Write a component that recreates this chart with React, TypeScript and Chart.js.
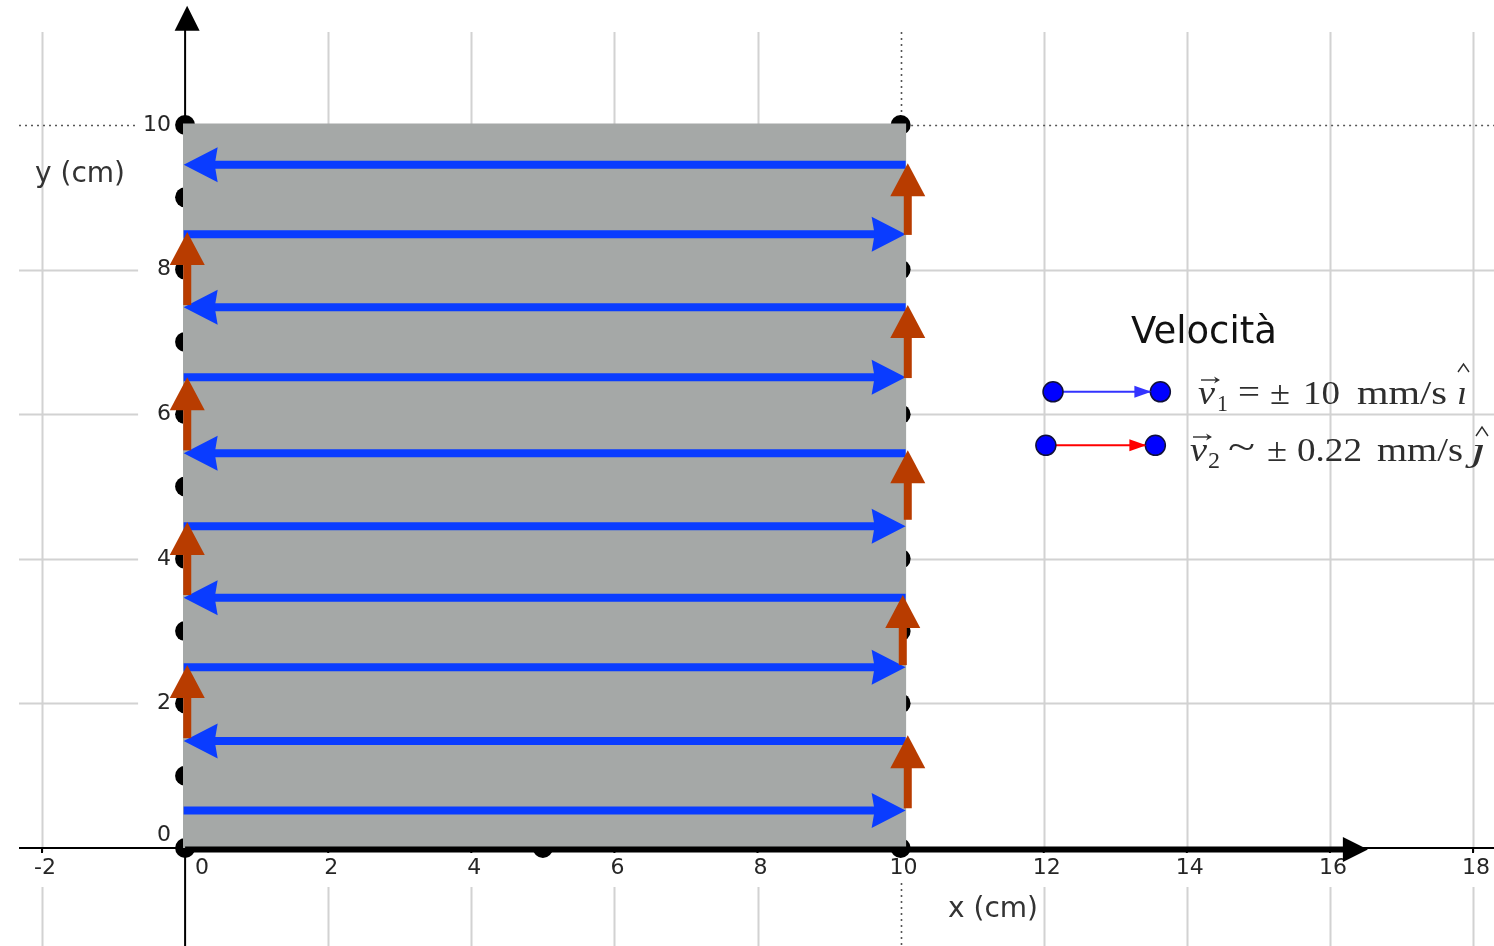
import React, { useEffect, useRef } from "react";
import { Chart, registerables } from "chart.js";

Chart.register(...registerables);

// ---------- axis ranges (cm) ----------
const xRange = [-2.587, 18.293];
const yRange = [-1.355, 11.729];

// ---------- ticks ----------
const xTickValues = [-2, 0, 2, 4, 6, 8, 10, 12, 14, 16, 18];
const xTickLabels = ["-2", "0", "2", "4", "6", "8", "10", "12", "14", "16", "18"];
const yTickValues = [0, 2, 4, 6, 8, 10];
const yTickLabels = ["0", "2", "4", "6", "8", "10"];
const dottedGridX = 10;
const dottedGridY = 10;
const xAxisTitle = "x (cm)";
const yAxisTitle = "y (cm)";

// ---------- grey plate ----------
const plateX = [-0.03, 10.08];
const plateTop = 10.02;

// ---------- black points ----------
const dotX = [0, 0, 0, 0, 0, 0, 0, 0, 0, 0, 0, 10, 10, 10, 10, 10, 10, 10, 10, 10, 10, 10, 5];
const dotY = [0, 1, 2, 3, 4, 5, 6, 7, 8, 9, 10, 0, 1, 2, 3, 4, 5, 6, 7, 8, 9, 10, 0];

// ---------- blue path (v1) ----------
const blueY = [0.52, 1.48, 2.5, 3.46, 4.45, 5.46, 6.51, 7.48, 8.49, 9.45];
const blueFromX = [-0.02, 10.07, -0.02, 10.07, -0.02, 10.07, -0.02, 10.07, -0.02, 10.07];
const blueToX = [10.07, -0.02, 10.07, -0.02, 10.07, -0.02, 10.07, -0.02, 10.07, -0.02];

// ---------- red steps (v2) ----------
const redX = [10.1, 0.03, 10.03, 0.03, 10.1, 0.03, 10.1, 0.03, 10.1];
const redFromY = [0.55, 1.52, 2.53, 3.5, 4.54, 5.5, 6.5, 7.51, 8.48];
const redToY = [1.56, 2.53, 3.5, 4.51, 5.5, 6.51, 7.51, 8.52, 9.47];

// ---------- axis vectors ----------
const xAxisVector = [0, 16.53];
const yAxisTip = 11.65;

// ---------- legend ----------
const legendTitle = "Velocità";
const legendFromX = [12.13, 12.03];
const legendToX = [13.63, 13.56];
const legendY = [6.31, 5.57];
const legendLineColors = ["#3333ff", "#ff0000"];

const BLUE = "#0a3cff";
const RED = "#b83c00";
const PLATE = "#a5a8a7";
const GRID = "#d2d2d2";
const TEXT = "#2e2e2e";

type Arrow = { color: string; shaft: number; head: number; half: number; notch?: number; inset?: number };

function drawArrow(ctx: CanvasRenderingContext2D, x1: number, y1: number, x2: number, y2: number, a: Arrow) {
  const dx = x2 - x1;
  const dy = y2 - y1;
  const L = Math.hypot(dx, dy) || 1;
  const ux = dx / L;
  const uy = dy / L;
  const inset = a.inset || 0;
  const tx = x2 - ux * inset;
  const ty = y2 - uy * inset;
  const bx = tx - ux * a.head;
  const by = ty - uy * a.head;
  const notch = a.notch || 0;
  ctx.save();
  if (a.shaft > 0) {
    ctx.strokeStyle = a.color;
    ctx.lineWidth = a.shaft;
    ctx.lineCap = "butt";
    ctx.beginPath();
    ctx.moveTo(x1, y1);
    ctx.lineTo(bx + ux * (notch + 1), by + uy * (notch + 1));
    ctx.stroke();
  }
  ctx.fillStyle = a.color;
  ctx.beginPath();
  ctx.moveTo(tx, ty);
  ctx.lineTo(bx - uy * a.half, by + ux * a.half);
  ctx.lineTo(bx + ux * notch, by + uy * notch);
  ctx.lineTo(bx + uy * a.half, by - ux * a.half);
  ctx.closePath();
  ctx.fill();
  ctx.restore();
}

function fitText(
  ctx: CanvasRenderingContext2D,
  text: string,
  x: number,
  y: number,
  w: number,
  font: string,
  color: string,
  clipTop?: number
) {
  ctx.save();
  if (clipTop !== undefined) {
    ctx.beginPath();
    ctx.rect(x - 10, clipTop, w + 30, 200);
    ctx.clip();
  }
  ctx.font = font;
  ctx.fillStyle = color;
  ctx.textAlign = "left";
  ctx.textBaseline = "alphabetic";
  const m = ctx.measureText(text).width || 1;
  ctx.translate(x, y);
  ctx.scale(w / m, 1);
  ctx.fillText(text, 0, 0);
  ctx.restore();
}

function vecMark(ctx: CanvasRenderingContext2D, x1: number, x2: number, y: number) {
  ctx.save();
  ctx.strokeStyle = TEXT;
  ctx.fillStyle = TEXT;
  ctx.lineWidth = 1.4;
  ctx.beginPath();
  ctx.moveTo(x1, y);
  ctx.lineTo(x2 - 3, y);
  ctx.stroke();
  ctx.beginPath();
  ctx.moveTo(x2, y);
  ctx.lineTo(x2 - 6, y - 3.5);
  ctx.lineTo(x2 - 4, y);
  ctx.lineTo(x2 - 6, y + 3.5);
  ctx.closePath();
  ctx.fill();
  ctx.restore();
}

function hat(ctx: CanvasRenderingContext2D, x1: number, x2: number, yTop: number, yBot: number) {
  ctx.save();
  ctx.strokeStyle = TEXT;
  ctx.lineWidth = 1.4;
  ctx.beginPath();
  ctx.moveTo(x1, yBot);
  ctx.lineTo((x1 + x2) / 2, yTop);
  ctx.lineTo(x2, yBot);
  ctx.stroke();
  ctx.restore();
}

const geoPlugin = {
  id: "geo",
  beforeDatasetsDraw(chart: any) {
    const ctx: CanvasRenderingContext2D = chart.ctx;
    const xs = chart.scales.x;
    const ys = chart.scales.y;
    const area = chart.chartArea;
    const px = (v: number) => xs.getPixelForValue(v);
    const py = (v: number) => ys.getPixelForValue(v);
    const ax0 = px(0);
    const ay0 = py(0);
    const gridLeft = area.left + 19;
    const gridTop = area.top + 32;
    ctx.save();
    // vertical grid
    xTickValues.forEach((v) => {
      if (v === 0) return;
      const x = Math.round(px(v)) + 0.5;
      const dotted = v === dottedGridX;
      ctx.strokeStyle = dotted ? "#555" : GRID;
      ctx.lineWidth = dotted ? 1.6 : 2;
      ctx.setLineDash(dotted ? [2, 4] : []);
      ctx.beginPath();
      ctx.moveTo(x, gridTop);
      ctx.lineTo(x, ay0 + 4);
      ctx.moveTo(x, ay0 + (dotted ? 35 : 39));
      ctx.lineTo(x, area.bottom);
      ctx.stroke();
    });
    // horizontal grid
    yTickValues.forEach((v) => {
      if (v === 0) return;
      const y = Math.round(py(v)) + 0.5;
      const dotted = v === dottedGridY;
      ctx.strokeStyle = dotted ? "#555" : GRID;
      ctx.lineWidth = dotted ? 1.6 : 2;
      ctx.setLineDash(dotted ? [2, 4] : []);
      ctx.beginPath();
      ctx.moveTo(gridLeft, y);
      ctx.lineTo(ax0 - 47, y);
      ctx.moveTo(ax0, y);
      ctx.lineTo(area.right, y);
      ctx.stroke();
    });
    ctx.setLineDash([]);
    // axes
    ctx.strokeStyle = "#000";
    ctx.lineWidth = 2;
    ctx.beginPath();
    ctx.moveTo(gridLeft, ay0);
    ctx.lineTo(area.right, ay0);
    const tipY = py(yAxisTip);
    ctx.moveTo(ax0, tipY + 22);
    ctx.lineTo(ax0, area.bottom);
    xTickValues.forEach((v) => {
      ctx.moveTo(px(v), ay0);
      ctx.lineTo(px(v), ay0 + 5);
    });
    yTickValues.forEach((v) => {
      ctx.moveTo(ax0 - 5, py(v));
      ctx.lineTo(ax0, py(v));
    });
    ctx.stroke();
    ctx.fillStyle = "#000";
    ctx.beginPath();
    ctx.moveTo(ax0 + 2, tipY);
    ctx.lineTo(ax0 + 2 - 12.5, tipY + 25);
    ctx.lineTo(ax0 + 2 + 12.5, tipY + 25);
    ctx.closePath();
    ctx.fill();
    // tick labels
    ctx.font = '22px "DejaVu Sans"';
    ctx.fillStyle = "#262626";
    ctx.textBaseline = "middle";
    ctx.textAlign = "center";
    xTickValues.forEach((v, i) => {
      const x = v === 0 ? px(v) + 17 : px(v) + 3;
      ctx.fillText(xTickLabels[i], x, ay0 + 20);
    });
    ctx.textAlign = "right";
    yTickValues.forEach((v, i) => {
      const y = v === 0 ? ay0 - 13 : py(v);
      ctx.fillText(yTickLabels[i], ax0 - 14, y);
    });
    // axis titles
    ctx.font = '28px "DejaVu Sans"';
    ctx.fillStyle = "#333";
    ctx.textAlign = "left";
    ctx.textBaseline = "alphabetic";
    ctx.fillText(yAxisTitle, area.left + 35, area.top + 182);
    ctx.fillText(xAxisTitle, area.left + 948, area.top + 917);
    ctx.restore();
  },
  afterDatasetDraw(chart: any, args: any) {
    const ds: any = chart.data.datasets[args.index];
    const a: Arrow | undefined = ds.arrow;
    if (!a) return;
    const pts = args.meta.data;
    if (!pts || pts.length < 2) return;
    drawArrow(chart.ctx, pts[0].x, pts[0].y, pts[1].x, pts[1].y, a);
  },
  afterDraw(chart: any) {
    const ctx: CanvasRenderingContext2D = chart.ctx;
    const L = chart.chartArea.left;
    const T = chart.chartArea.top;
    ctx.save();
    ctx.font = '37px "DejaVu Sans"';
    ctx.fillStyle = "#111";
    ctx.textAlign = "left";
    ctx.textBaseline = "alphabetic";
    ctx.fillText(legendTitle, L + 1131, T + 343);

    const serif = '"Liberation Serif", serif';
    const it = (s: number) => `italic ${s}px ${serif}`;
    const rm = (s: number) => `${s}px ${serif}`;
    // line 1: v1 = ± 10 mm/s i-hat
    let b = T + 404;
    fitText(ctx, "v", L + 1198, b, 17, it(34), TEXT);
    vecMark(ctx, L + 1201, L + 1220, b - 24);
    fitText(ctx, "1", L + 1217, b + 7, 11, rm(23), TEXT);
    fitText(ctx, "=", L + 1238, b - 1, 22, rm(34), TEXT);
    fitText(ctx, "±", L + 1270, b, 20, rm(34), TEXT);
    fitText(ctx, "10", L + 1303, b, 37, rm(34), TEXT);
    fitText(ctx, "mm/s", L + 1357, b, 90, rm(34), TEXT);
    fitText(ctx, "i", L + 1457, b, 10, it(34), TEXT, b - 17);
    hat(ctx, L + 1458, L + 1469, T + 364, T + 372);
    // line 2: v2 ~ ± 0.22 mm/s j-hat
    b = T + 461;
    fitText(ctx, "v", L + 1190, b, 17, it(34), TEXT);
    vecMark(ctx, L + 1193, L + 1212, b - 24);
    fitText(ctx, "2", L + 1208, b + 7, 12, rm(23), TEXT);
    fitText(ctx, "~", L + 1228, b - 2, 27, rm(38), TEXT);
    fitText(ctx, "±", L + 1267, b, 20, rm(34), TEXT);
    fitText(ctx, "0.22", L + 1297, b, 65, rm(34), TEXT);
    fitText(ctx, "mm/s", L + 1377, b, 86, rm(34), TEXT);
    fitText(ctx, "j", L + 1471, b, 15, it(34), TEXT, b - 17);
    hat(ctx, L + 1476, L + 1488, T + 427, T + 436);
    ctx.restore();
  },
};

function buildDatasets(): any[] {
  const ds: any[] = [];
  // legend entries (top)
  legendY.forEach((y, i) => {
    ds.push({
      type: "line",
      data: [
        { x: legendFromX[i], y },
        { x: legendToX[i], y },
      ],
      showLine: true,
      borderColor: legendLineColors[i],
      borderWidth: 2,
      pointRadius: 10,
      pointBackgroundColor: "#0000ff",
      pointBorderColor: "#10103a",
      pointBorderWidth: 1.5,
      fill: false,
      order: 5,
      arrow: { color: legendLineColors[i], shaft: 0, head: 17, half: 6, inset: 9 },
    });
  });
  // red steps
  redX.forEach((x, i) => {
    ds.push({
      type: "scatter",
      data: [
        { x, y: redFromY[i] },
        { x, y: redToY[i] },
      ],
      pointRadius: 0,
      showLine: false,
      order: 10,
      arrow: { color: RED, shaft: 8, head: 33, half: 17.5 },
    });
  });
  // blue path
  blueY.forEach((y, i) => {
    ds.push({
      type: "scatter",
      data: [
        { x: blueFromX[i], y },
        { x: blueToX[i], y },
      ],
      pointRadius: 0,
      showLine: false,
      order: 20,
      arrow: { color: BLUE, shaft: 8, head: 34, half: 17.5, notch: 3 },
    });
  });
  // x axis vector
  ds.push({
    type: "scatter",
    data: [
      { x: xAxisVector[0], y: -0.02 },
      { x: xAxisVector[1], y: -0.02 },
    ],
    pointRadius: 0,
    showLine: false,
    order: 30,
    arrow: { color: "#000", shaft: 6, head: 25, half: 12.5 },
  });
  // grey plate
  ds.push({
    type: "line",
    data: [
      { x: plateX[0], y: plateTop },
      { x: plateX[1], y: plateTop },
    ],
    borderWidth: 0,
    borderColor: "rgba(0,0,0,0)",
    backgroundColor: PLATE,
    pointRadius: 0,
    fill: "origin",
    order: 40,
  });
  // black points
  ds.push({
    type: "scatter",
    data: dotX.map((x, i) => ({ x, y: dotY[i] })),
    pointRadius: 10,
    pointBackgroundColor: "#000",
    pointBorderWidth: 0,
    order: 50,
  });
  return ds;
}

export default function App() {
  const ref = useRef<HTMLCanvasElement>(null);
  useEffect(() => {
    if (!ref.current) return;
    const chart = new Chart(ref.current, {
      type: "scatter",
      data: { datasets: buildDatasets() },
      options: {
        animation: false,
        responsive: false,
        devicePixelRatio: 1,
        events: [],
        layout: { padding: 0, autoPadding: false },
        plugins: { legend: { display: false }, tooltip: { enabled: false }, title: { display: false } },
        scales: {
          x: { type: "linear", min: xRange[0], max: xRange[1], display: false },
          y: { type: "linear", min: yRange[0], max: yRange[1], display: false },
        },
      },
      plugins: [geoPlugin],
    } as any);
    return () => chart.destroy();
  }, []);
  return (
    <div style={{ position: "absolute", left: 0, top: 0, width: 1494, height: 946, background: "#fff" }}>
      <canvas ref={ref} width={1494} height={946} style={{ display: "block", width: 1494, height: 946 }} />
    </div>
  );
}
